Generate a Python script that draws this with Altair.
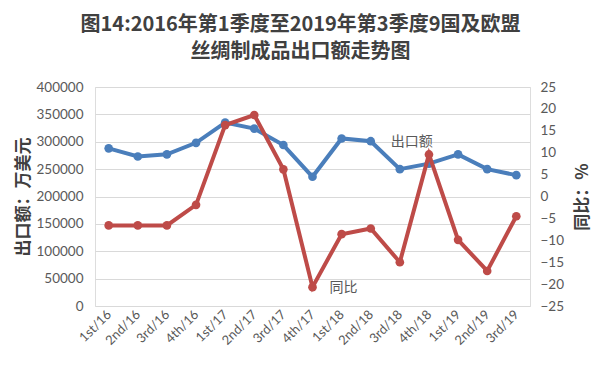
import altair as alt
import pandas as pd

quarters = ["1st/16", "2nd/16", "3rd/16", "4th/16", "1st/17", "2nd/17", "3rd/17", "4th/17",
            "1st/18", "2nd/18", "3rd/18", "4th/18", "1st/19", "2nd/19", "3rd/19"]
export_value = [288000, 273000, 277000, 298000, 335000, 324000, 294000, 236000,
                306000, 301000, 250000, 260000, 277000, 250000, 239000]
yoy_pct = [-6.6, -6.6, -6.6, -1.9, 16.3, 18.6, 6.2, -20.7,
           -8.6, -7.3, -15.0, 9.6, -9.9, -17.0, -4.5]

title_lines = ["图14:2016年第1季度至2019年第3季度9国及欧盟", "丝绸制成品出口额走势图"]
left_title = "出口额：万美元"
right_title = "同比：%"
left_ticks = [0, 50000, 100000, 150000, 200000, 250000, 300000, 350000, 400000]
right_ticks = [-25, -20, -15, -10, -5, 0, 5, 10, 15, 20, 25]
ann_export = {"q": "3rd/18", "v": 300000, "t": "出口额"}
ann_yoy = {"q": "1st/18", "v": -21, "t": "同比"}

blue = "#4a7ebb"
red = "#be4b48"
grey = "#595959"
cjk = "Noto Sans CJK SC"
latin = "Lato"

df = pd.DataFrame({"q": quarters, "export": export_value, "yoy": yoy_pct})
ann1 = pd.DataFrame([ann_export])
ann2 = pd.DataFrame([ann_yoy])

xaxis = alt.Axis(labelAngle=-45, labelAlign="right", labelBaseline="middle",
                 labelFont=latin, labelFontSize=13, labelColor=grey,
                 labelOverlap=False,
                 ticks=False, domain=False, grid=False, labelPadding=6)
xscale = alt.Scale(type="point", padding=0.47)


def xenc():
    return alt.X("q:N", sort=quarters, title=None, scale=xscale, axis=xaxis)


left_scale = alt.Scale(domain=[0, 400000], nice=False, zero=False)
right_scale = alt.Scale(domain=[-25, 25], nice=False, zero=False)

left_axis = alt.Axis(orient="left", values=left_ticks, labelOverlap=False,
                     labelBound=False, labelFlush=False,
                     format="d", labelFont=latin, labelFontSize=13.5, labelColor=grey,
                     ticks=False, domain=False, gridColor="#d9d9d9", gridWidth=1.2,
                     labelPadding=12, titleFont=cjk, titleFontSize=17,
                     titleFontWeight="bold", titleColor="#404040", titlePadding=4)
right_axis = alt.Axis(orient="right", values=right_ticks, labelOverlap=False,
                      labelBound=False, labelFlush=False,
                      labelFont=latin, labelFontSize=13.5, labelColor=grey,
                      ticks=False, domain=False, grid=False,
                      labelPadding=10, titleFont=cjk, titleFontSize=17,
                      titleFontWeight="bold", titleColor="#404040", titlePadding=28,
                      titleAngle=270)

left_line = alt.Chart(df).mark_line(
    color=blue, strokeWidth=4,
    point=alt.OverlayMarkDef(filled=True, size=75, color=blue, opacity=1)
).encode(
    x=xenc(),
    y=alt.Y("export:Q", scale=left_scale, title=left_title, axis=left_axis)
)
left_text = alt.Chart(ann1).mark_text(
    font=cjk, fontSize=14, color=grey, dx=12
).encode(x=xenc(),
         y=alt.Y("v:Q", scale=left_scale, title=left_title, axis=left_axis), text="t:N")

right_line = alt.Chart(df).mark_line(
    color=red, strokeWidth=4,
    point=alt.OverlayMarkDef(filled=True, size=75, color=red, opacity=1)
).encode(
    x=xenc(),
    y=alt.Y("yoy:Q", scale=right_scale, title=right_title, axis=right_axis)
)
right_text = alt.Chart(ann2).mark_text(
    font=cjk, fontSize=14, color=grey, dx=2
).encode(x=xenc(),
         y=alt.Y("v:Q", scale=right_scale, title=right_title, axis=right_axis), text="t:N")

left_group = alt.layer(left_line, left_text)
right_group = alt.layer(right_line, right_text)

chart = alt.layer(left_group, right_group).resolve_scale(y="independent").properties(
    width=435, height=219,
    autosize=alt.AutoSizeParams(type="none"),
    padding={"left": 87, "top": 79, "right": 62, "bottom": 56},
    title=alt.TitleParams(text=title_lines, font=cjk, fontSize=20, fontWeight="bold",
                          color="#404040", anchor="middle", frame="group",
                          dx=-12, offset=18, lineHeight=27)
).configure_view(stroke="transparent", strokeWidth=0).configure(background="white")

chart.save("out.html", embed_options={"renderer": "svg", "actions": False})
